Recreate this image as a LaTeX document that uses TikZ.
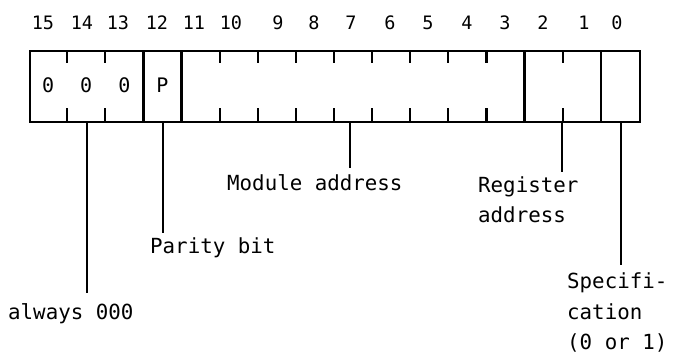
\documentclass[tikz,border=0pt]{standalone}
\usepackage{fontspec}
\newfontfamily\dvm{DejaVu Sans Mono}
\begin{document}
\begin{tikzpicture}[x=1pt,y=-1pt,
  boxline/.style={line width=2.4pt},
  tickline/.style={line width=2.2pt},
  conn/.style={line width=2.2pt},
  bitnum/.style={inner sep=0pt,font=\dvm\fontsize{18.5}{20}\selectfont},
  cell/.style={inner sep=0pt,font=\dvm\fontsize{20}{22}\selectfont},
  lbl/.style={inner sep=0pt,align=left,font=\dvm\fontsize{20.8}{30.5}\selectfont}]
\useasboundingbox (0,0) rectangle (681,356);
\def\W{38.125}
% the word frame
\node[draw,boxline,minimum width=610pt,minimum height=71pt,inner sep=0pt,anchor=north west] (word) at (29,50) {};
% full dividers
\foreach \k in {3,4,13,15}{
  \draw[boxline] (29+\k*\W,50) -- (29+\k*\W,121);
}
% tick marks
\foreach \k in {1,2,5,6,7,8,9,10,11,12,14}{
  \draw[tickline] (29+\k*\W,50) -- (29+\k*\W,63);
  \draw[tickline] (29+\k*\W,108) -- (29+\k*\W,121);
}
% bit numbers
\foreach \n/\x in {15/43,14/82,13/118,12/157,11/194,10/231,9/278,8/314,7/351,6/390,5/428,4/467,3/505,2/543,1/584,0/617}{
  \node[bitnum] (n\n) at (\x,23) {\n};
}
% cell contents
\node[cell] (c15) at (29+0.5*\W,85) {0};
\node[cell] (c14) at (29+1.5*\W,85) {0};
\node[cell] (c13) at (29+2.5*\W,85) {0};
\node[cell] (c12) at (29+3.5*\W,85) {P};
% labels
\node[lbl,anchor=base west] (alw) at (8,319) {always 000};
\node[lbl,anchor=base west] (par) at (150,253) {Parity bit};
\node[lbl,anchor=base west] (mod) at (227,190) {Module address};
\node[lbl,anchor=north west] (reg) at (478,176.3) {Register\\address};
\node[lbl,anchor=north west] (spec) at (567,272.5) {Specifi-\\cation\\(0 or 1)};
% connector ends
\coordinate (s1) at (87,121);   \coordinate (e1) at (87,293);
\coordinate (s2) at (163,121);  \coordinate (e2) at (163,233);
\coordinate (s3) at (350,121);  \coordinate (e3) at (350,168);
\coordinate (s4) at (562,121);  \coordinate (e4) at (562,172);
\coordinate (s5) at (621,121);  \coordinate (e5) at (621,265);
\draw[conn] (s1) -- (e1);
\draw[conn] (s2) -- (e2);
\draw[conn] (s3) -- (e3);
\draw[conn] (s4) -- (e4);
\draw[conn] (s5) -- (e5);
\end{tikzpicture}
\end{document}
